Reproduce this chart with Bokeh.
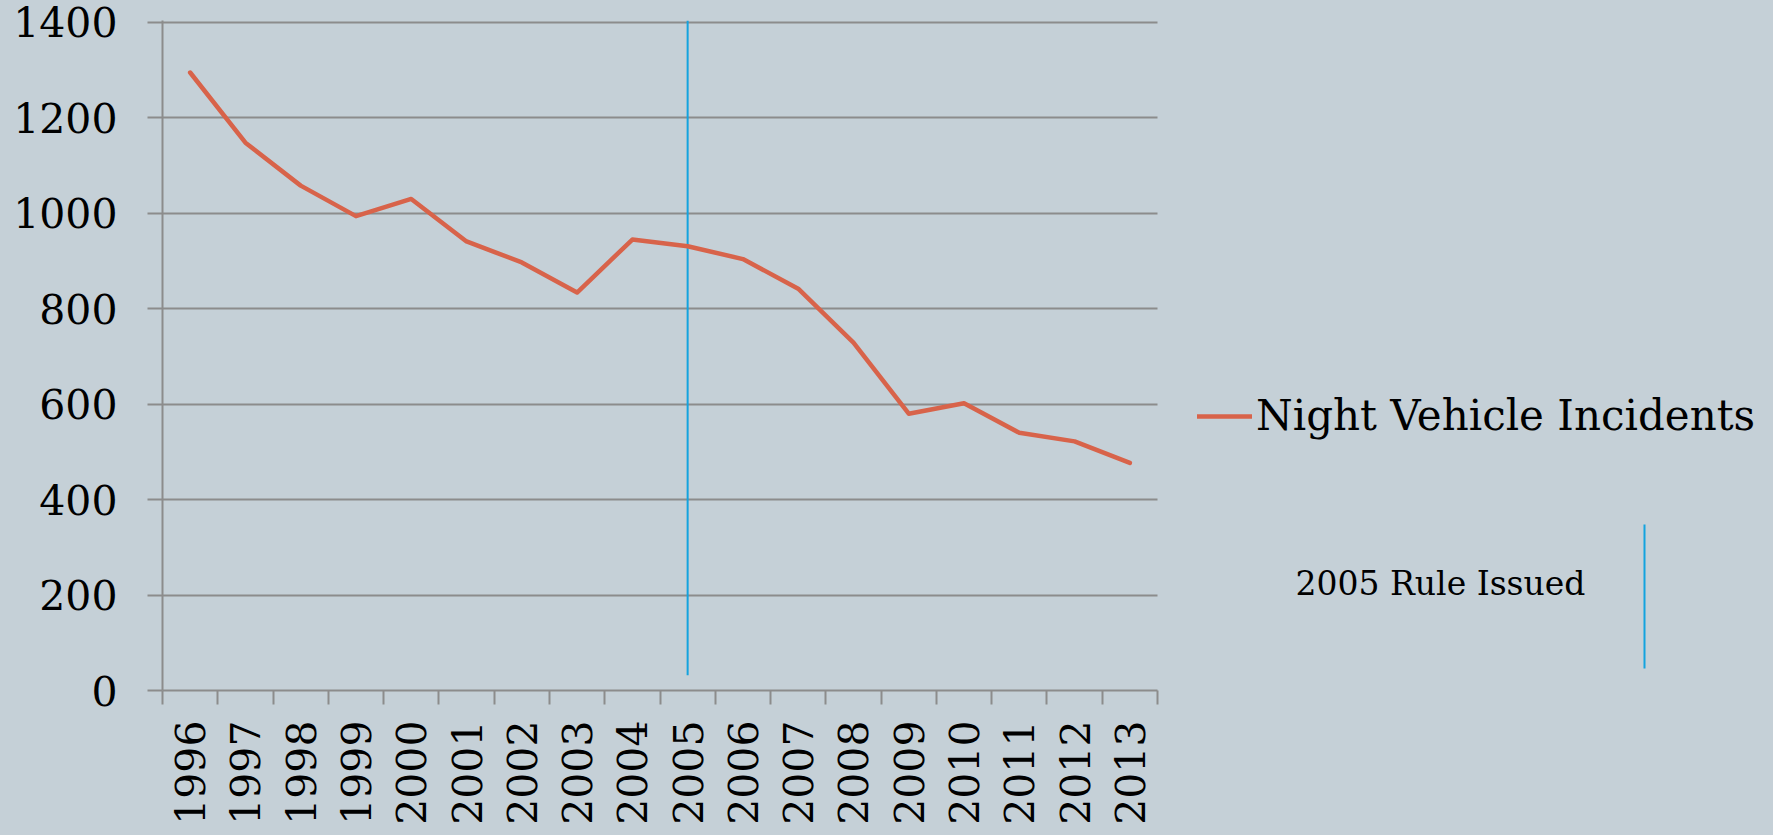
from bokeh.plotting import figure
from bokeh.models import Range1d, FixedTicker, Legend, LegendItem, Label, Arrow
from bokeh.embed import file_html
from bokeh.resources import INLINE
import math

# ---- data ----
years = [1996, 1997, 1998, 1999, 2000, 2001, 2002, 2003, 2004,
         2005, 2006, 2007, 2008, 2009, 2010, 2011, 2012, 2013]
incidents = [1295, 1148, 1058, 994, 1030, 941, 897, 834, 945,
             931, 904, 842, 729, 580, 602, 540, 522, 477]
y_ticks = [0, 200, 400, 600, 800, 1000, 1200, 1400]
series_name = "Night Vehicle Incidents"
rule_year = 2005
rule_span = [32, 1404]
rule_text = "2005 Rule Issued"

BG = "#c5d0d7"
GRID = "#8c8c8c"
RED = "#d8634a"
BLUE = "#13a3df"
FONT = "DejaVu Serif"

x_lo, x_hi = years[0] - 0.5, years[-1] + 0.5
# frame spans the whole width so the side annotations are not clipped;
# the axis and grid are bounded to the category span
px_per_year = 995 / (x_hi - x_lo)
x_end = x_lo + 1611 / px_per_year

p = figure(width=1773, height=835, output_backend="svg", toolbar_location=None,
           x_range=Range1d(x_lo, x_end),
           y_range=Range1d(y_ticks[0], y_ticks[-1] + 4))
p.min_border_left = 162
p.min_border_right = 0
p.min_border_top = 20
p.min_border_bottom = 145
p.background_fill_color = BG
p.border_fill_color = BG
p.outline_line_color = None

# axes
boundaries = [y - 0.5 for y in years] + [years[-1] + 0.5]
p.xaxis.ticker = FixedTicker(ticks=years, minor_ticks=boundaries)
p.xaxis.bounds = (x_lo, x_hi)
p.yaxis.ticker = FixedTicker(ticks=y_ticks)
p.xgrid.visible = False
p.ygrid.grid_line_color = GRID
p.ygrid.grid_line_width = 2
p.ygrid.cross_bounds = (x_lo, x_hi)

for ax in (p.xaxis, p.yaxis):
    ax.axis_line_color = GRID
    ax.axis_line_width = 2
    ax.major_label_text_font = FONT
    ax.major_label_text_font_size = "41px"
    ax.major_label_text_color = "black"
    ax.major_tick_line_color = GRID
    ax.major_tick_line_width = 2
    ax.minor_tick_line_color = GRID
    ax.minor_tick_line_width = 2

p.xaxis.major_tick_out = 0
p.xaxis.major_tick_in = 0
p.xaxis.minor_tick_out = 14
p.xaxis.minor_tick_in = 0
p.xaxis.major_label_orientation = math.pi / 2
p.xaxis.major_label_standoff = 16

p.yaxis.major_tick_out = 15
p.yaxis.major_tick_in = 0
p.yaxis.minor_tick_out = 0
p.yaxis.minor_tick_in = 0
p.yaxis.major_label_standoff = 30

# rule line
p.line([rule_year, rule_year], rule_span, line_color=BLUE, line_width=2)

# main series
r = p.line(years, incidents, line_color=RED, line_width=4.5, line_cap="round", line_join="round")

legend = Legend(items=[LegendItem(label=series_name, renderers=[r])],
                location=(1035, 250), padding=0, margin=0, spacing=0,
                glyph_width=55, glyph_height=20, label_standoff=4,
                background_fill_alpha=0, border_line_color=None,
                label_text_font=FONT, label_text_font_size="42px",
                label_text_color="black")
p.add_layout(legend, "center")

lab = Label(x=1133, y=107, x_units="screen", y_units="screen", text=rule_text,
            text_font=FONT, text_font_size="33px", text_color="black",
            text_baseline="alphabetic")
p.add_layout(lab)

arr = Arrow(end=None, x_start=1482, y_start=22, x_end=1482, y_end=166,
            start_units="screen", end_units="screen",
            line_color=BLUE, line_width=2)
p.add_layout(arr)

html = file_html(p, INLINE)
html = html.replace("</head>", "<style>html,body{background:%s;}</style></head>" % BG, 1)
open("out.html", "w").write(html)
